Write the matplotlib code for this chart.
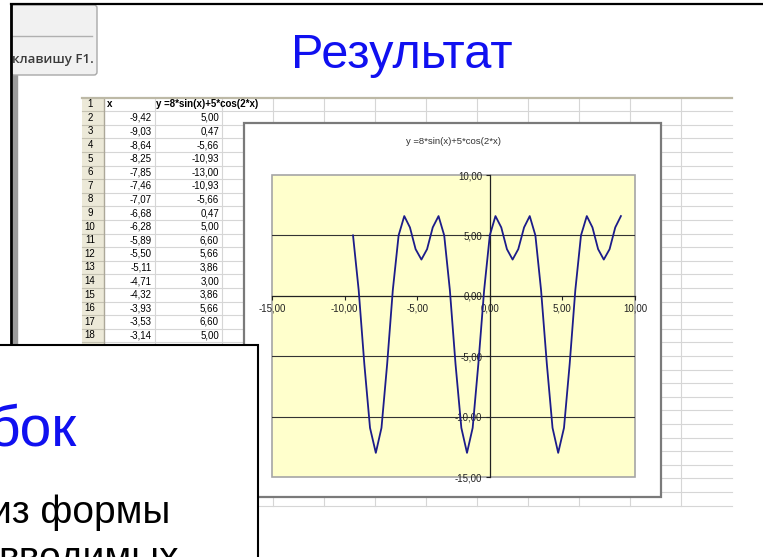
import matplotlib
matplotlib.use('Agg')
import matplotlib.pyplot as plt
from matplotlib.patches import Rectangle, FancyBboxPatch

plt.rcParams['font.family'] = ['Liberation Sans', 'DejaVu Sans']

# data read from the sheet / chart
x_vals = [-9.42, -9.03, -8.64, -8.25, -7.85, -7.46, -7.07, -6.68,
          -6.28, -5.89, -5.50, -5.11, -4.71, -4.32, -3.93, -3.53,
          -3.14, -2.75, -2.36, -1.96, -1.57, -1.18, -0.79, -0.39,
          0.00, 0.39, 0.79, 1.18, 1.57, 1.96, 2.36, 2.75,
          3.14, 3.53, 3.93, 4.32, 4.71, 5.11, 5.50, 5.89,
          6.28, 6.68, 7.07, 7.46, 7.85, 8.25, 8.64, 9.03]
y_vals = [5.00, 0.47, -5.66, -10.93, -13.00, -10.93, -5.66, 0.47,
          5.00, 6.60, 5.66, 3.86, 3.00, 3.86, 5.66, 6.60,
          5.00, 0.47, -5.66, -10.93, -13.00, -10.93, -5.66, 0.47,
          5.00, 6.60, 5.66, 3.86, 3.00, 3.86, 5.66, 6.60,
          5.00, 0.47, -5.66, -10.93, -13.00, -10.93, -5.66, 0.47,
          5.00, 6.60, 5.66, 3.86, 3.00, 3.86, 5.66, 6.60]
axis_ticks = [-15, -10, -5, 0, 5, 10]
grid_levels = [5, -5, -10]
shown_rows = 17

formula = 'y =8*sin(x)+5*cos(2*x)'
title_text = 'Результат'
tooltip_text = 'клавишу F1.'

W, H = 763, 557


def fmt(v):
    return f'{v:.2f}'.replace('.', ',')


fig = plt.figure(figsize=(W / 100, H / 100), dpi=100)
bg = fig.add_axes([0, 0, 1, 1])
bg.set_xlim(0, W)
bg.set_ylim(H, 0)
bg.axis('off')

# window frame on the left
bg.plot([11, W], [4, 4], color='black', lw=1.6, zorder=3)
bg.plot([11, 11], [4, 345], color='black', lw=2, zorder=3)
bg.add_patch(Rectangle((12.5, 75), 4.5, 270, color='#9c9c9c', zorder=2))

# tooltip
bg.add_patch(FancyBboxPatch((11, 5), 86, 70, boxstyle='round,pad=0,rounding_size=3',
                            facecolor='#f1f1f1', edgecolor='#a8a8a8', lw=1, zorder=2))
bg.plot([12, 92], [36, 36], color='#b0b0b0', lw=1, zorder=2.5)
bg.text(12, 59, tooltip_text, fontsize=9.5, family=['Open Sans', 'DejaVu Sans'],
        weight='semibold', color='#3a3a3a', va='center', ha='left', zorder=3)

# slide title
bg.text(402, 68, title_text, fontsize=35, color='#1010f0', ha='center', va='baseline')

# spreadsheet
top, row_h, n_rows = 97.5, 13.6, 30
col_edges = [82, 104, 155, 222] + [222 + 51 * k for k in range(1, 10)]
right = 732
bottom = top + n_rows * row_h
for k in range(1, n_rows + 1):
    y = top + k * row_h
    bg.plot([104, right], [y, y], color='#d6d6d6', lw=0.8, zorder=1)
for xe in col_edges[2:]:
    bg.plot([xe, xe], [top, bottom], color='#d6d6d6', lw=0.8, zorder=1)
bg.add_patch(Rectangle((82, top), 22, n_rows * row_h, facecolor='#ece9d8',
                       edgecolor='none', zorder=1.2))
for k in range(1, n_rows + 1):
    y = top + k * row_h
    bg.plot([82, 104], [y, y], color='#c5c2b2', lw=0.8, zorder=1.3)
bg.plot([104, 104], [top, bottom], color='#aca899', lw=1, zorder=1.3)
bg.plot([82, right], [top, top], color='#bdb9a6', lw=1.6, zorder=1.3)

# rows 19+ sit under the slide fragment, so only the visible ones get numbers
for r in range(shown_rows + 1):
    yc = top + (r + 0.5) * row_h
    bg.text(90, yc, str(r + 1), fontsize=7, ha='center', va='center', zorder=1.5)
bg.text(107, top + 0.5 * row_h, 'x', fontsize=7, weight='bold', va='center', zorder=1.5)
bg.text(156, top + 0.5 * row_h, formula, fontsize=7, weight='bold', va='center', zorder=1.5)
for i in range(shown_rows):
    yc = top + (i + 1.5) * row_h
    bg.text(152, yc, fmt(x_vals[i]), fontsize=7, ha='right', va='center', zorder=1.5)
    bg.text(219, yc, fmt(y_vals[i]), fontsize=7, ha='right', va='center', zorder=1.5)

# chart object
bg.add_patch(Rectangle((244, 123), 417, 374, facecolor='white', edgecolor='#7a7a7a',
                       lw=1.6, zorder=5))
bg.text(453, 142, formula, fontsize=6.8, color='#333333', ha='center', va='center', zorder=6)

# lower-left slide fragment
bg.add_patch(Rectangle((-2, 345), 260, 230, facecolor='white', edgecolor='black',
                       lw=1.5, zorder=10))
bg.text(-12, 446, 'бок', fontsize=41, color='#1010f0', ha='left', va='baseline', zorder=11)
bg.text(-10, 523, 'из формы', fontsize=28, color='black', ha='left', va='baseline', zorder=11)
bg.text(-2, 569, 'вводимых', fontsize=28, color='black', ha='left', va='baseline', zorder=11)

# plot area
ax = fig.add_axes([272 / W, (H - 477) / H, 363 / W, 302 / H])
ax.set_xlim(-15, 10)
ax.set_ylim(-15, 10)
ax.set_facecolor('#ffffcc')
ax.add_patch(Rectangle((0, 0), 1, 1, transform=ax.transAxes, fill=False,
                       edgecolor='#a6a6a6', lw=1.2, clip_on=False, zorder=0.5))
for s in ['top', 'right']:
    ax.spines[s].set_visible(False)
ax.spines['left'].set_position(('data', 0))
ax.spines['bottom'].set_position(('data', 0))
for s in ['left', 'bottom']:
    ax.spines[s].set_color('#222222')
    ax.spines[s].set_linewidth(0.9)
for lv in grid_levels:
    ax.axhline(lv, color='#333333', lw=0.8, zorder=1)
ax.set_xticks(axis_ticks)
ax.set_yticks(axis_ticks)
ax.set_xticklabels([fmt(t) for t in axis_ticks])
ax.set_yticklabels([fmt(t) for t in axis_ticks])
ax.tick_params(direction='out', length=3, width=0.8, labelsize=7, pad=2.5,
               colors='#222222')
ax.plot(x_vals, y_vals, color='#1c1c8a', lw=1.3, zorder=3)

fig.savefig('out.png', dpi=100)
